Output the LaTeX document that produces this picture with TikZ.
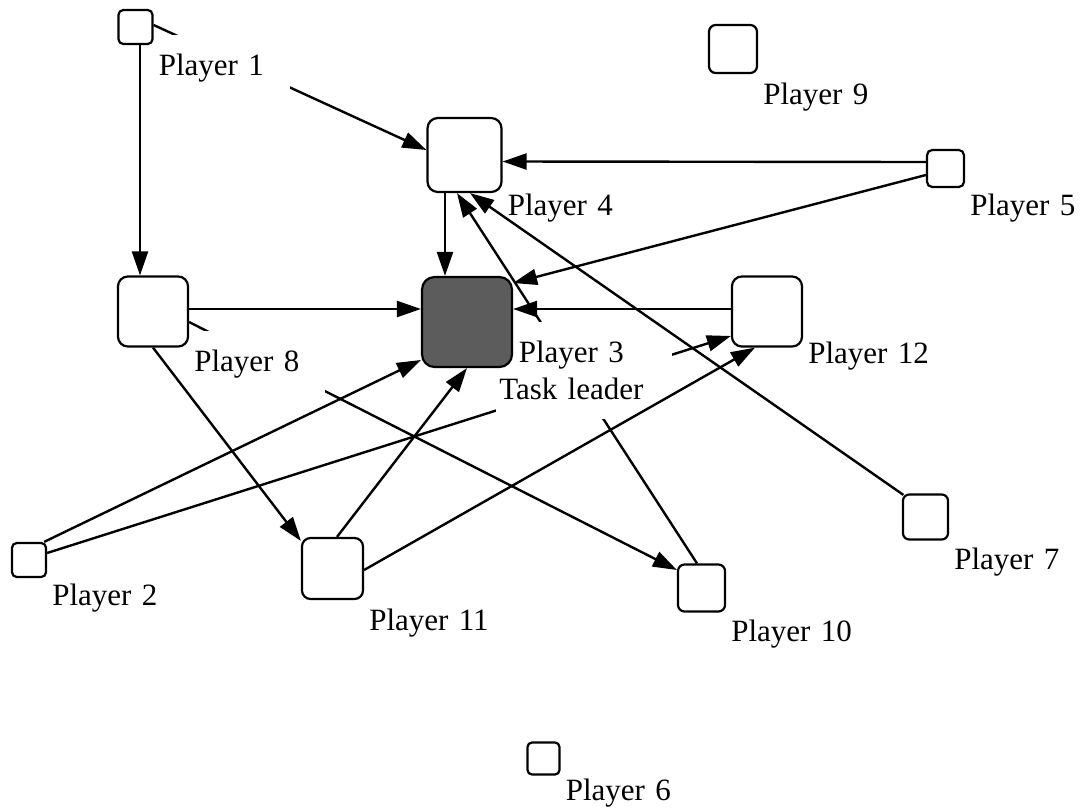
\documentclass[tikz,border=0pt]{standalone}
\usepackage{fontspec}
\setmainfont{Liberation Serif}
\usepackage{tikz}
\usetikzlibrary{arrows.meta, calc}

\definecolor{leadergray}{RGB}{92,92,92}
\newcommand{\plabelfont}{\fontsize{31}{37}\selectfont}

\pgfdeclarelayer{back}
\pgfsetlayers{back,main}

\begin{document}
\begin{tikzpicture}[x=1pt, y=-1pt,
		player/.style={draw, fill=white, line width=2.2pt, inner sep=0pt,
			minimum size=#1, rounded corners=0.14*#1},
		leader/.style={player=#1, fill=leadergray},
		lbl/.style={fill=white, anchor=north west, inner xsep=3pt, inner ysep=19pt,
			text width=128pt, align=left, font=\plabelfont},
		arr/.style={line width=2.4pt, -{Triangle[length=24pt,width=16pt]}}]
		\useasboundingbox (0,0) rectangle (1080,809);

		% Players
		\node[player=34pt] (p1) at (135.5,27) {};
		\node[player=48pt] (p9) at (733,49) {};
		\node[player=74pt] (p4) at (464.5,155) {};
		\node[player=37pt] (p5) at (945.5,168.5) {};
		\node[player=70pt] (p8) at (153,311.5) {};
		\node[leader=90pt] (p3) at (467,322) {};
		\node[player=70pt] (p12) at (767,311.5) {};
		\node[player=34pt] (p2) at (29,560) {};
		\node[player=61pt] (p11) at (332.5,568.5) {};
		\node[player=47pt] (p10) at (701.5,588) {};
		\node[player=45pt] (p7) at (925.5,517) {};
		\node[player=32pt] (p6) at (543.5,758.5) {};

		\begin{pgfonlayer}{back}
		% Edges hidden behind labels
		\draw[arr] ([yshift=2pt]p1.east) -- ([yshift=5pt]p4.west);
		\draw[arr] ([yshift=-10.5pt]p8.east) -- ([yshift=18pt]p10.west);
		\draw[arr] ([xshift=-4.5pt]p10.north) -- ([xshift=-7.5pt]p4.south);
		\draw[arr] ([yshift=7pt]p2.east) -- ([yshift=-24.5pt]p12.west);

		% Labels
		\node[lbl] (l1) at ([shift={(2pt,10pt)}]p1.south east) {Player 1};
		\node[lbl] (l9) at ([shift={(2pt,10pt)}]p9.south east) {Player 9};
		\node[lbl] (l4) at ([shift={(2pt,18pt)}]p4.south east) {Player 4};
		\node[lbl] (l5) at ([shift={(2pt,13pt)}]p5.south east) {Player 5};
		\node[lbl] (l8) at ([shift={(2pt,17pt)}]p8.south east) {Player 8};
		\node[lbl] (l12) at ([shift={(2pt,25pt)}]p12.south east) {Player 12};
		\node[lbl] (l2) at ([shift={(2pt,13pt)}]p2.south east) {Player 2};
		\node[lbl] (l11) at ([shift={(2pt,10pt)}]p11.south east) {Player 11};
		\node[lbl] (l10) at ([shift={(2pt,12pt)}]p10.south east) {Player 10};
		\node[lbl] (l7) at ([shift={(2pt,12pt)}]p7.south east) {Player 7};
		\node[lbl] (l6) at ([shift={(2pt,16pt)}]p6.south east) {Player 6};
		\node[lbl, text width=170pt] (l3) at ([xshift=-17pt]p3.east)
			{\makebox[144pt]{Player 3}\\Task leader};
		\end{pgfonlayer}

		% Edges
		\draw[arr] ([xshift=4.5pt]p1.south) -- ([xshift=-13pt]p8.north);
		\draw[arr] ([yshift=6.5pt]p5.west) -- ([yshift=-6.5pt]p4.east);
		\draw[arr] ([yshift=-6.5pt]p5.west) -- ([yshift=39pt]p3.east);
		\draw[arr] ([xshift=-19.5pt]p4.south) -- ([xshift=-22pt]p3.north);
		\draw[arr] ([shift={(1.5pt,-1.5pt)}]p7.north west) -- ([xshift=5.5pt]p4.south);
		\draw[arr] ([yshift=2.5pt]p12.west) -- ([yshift=13pt]p3.east);
		\draw[arr] ([yshift=2.5pt]p8.east) -- ([yshift=13pt]p3.west);
		\draw[arr] (p8.south) -- ([yshift=-4pt]p11.north west);
		\draw[arr] ([xshift=4.5pt]p11.north) -- (p3.south);
		\draw[arr] ([xshift=-3pt]p2.north east) -- ([yshift=-38pt]p3.west);
		\draw[arr] ([yshift=-1.5pt]p11.east) -- ([xshift=-12pt]p12.south);
	\end{tikzpicture}
\end{document}
